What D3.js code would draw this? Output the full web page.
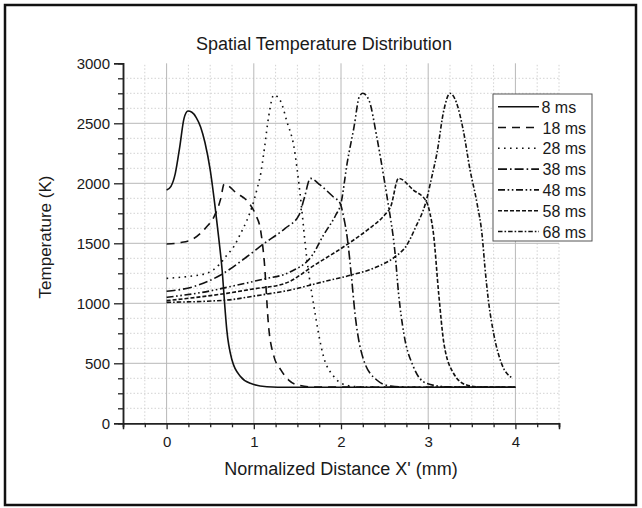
<!DOCTYPE html>
<html>
<head>
<meta charset="utf-8">
<script src="https://cdn.jsdelivr.net/npm/d3@7"></script>
<style>
    body { margin: 0; background: #fff; }
    text { font-family: "Liberation Sans", Arial, sans-serif; fill: #1a1a1a; }
</style>
</head>
<body>
<div id="chart"></div>
<script>
let series_names = ["8 ms", "18 ms", "28 ms", "38 ms", "48 ms", "58 ms", "68 ms"];

let x_8 = [0, 0.05, 0.1, 0.15, 0.2, 0.245, 0.29, 0.34, 0.39, 0.44, 0.5, 0.56, 0.6, 0.64, 0.665, 0.69, 0.75, 0.85, 0.96, 1.15, 1.4, 4];
let t_8 = [1944, 1975, 2083, 2300, 2541, 2602, 2592, 2548, 2470, 2340, 2111, 1780, 1530, 1250, 1000, 780, 527, 388, 333, 305, 300, 300];

let x_18 = [0, 0.15, 0.3, 0.45, 0.55, 0.62, 0.66, 0.8, 0.95, 1.02, 1.08, 1.12, 1.17, 1.23, 1.31, 1.4, 1.5, 1.7, 4];
let t_18 = [1494, 1505, 1535, 1630, 1730, 1870, 1994, 1920, 1830, 1740, 1600, 1350, 805, 560, 445, 360, 320, 302, 300];

let x_28 = [0, 0.2, 0.46, 0.6, 0.69, 0.77, 0.85, 0.92, 0.98, 1.04, 1.08, 1.12, 1.17, 1.23, 1.31, 1.38, 1.46, 1.53, 1.61, 1.69, 1.8, 1.92, 2.05, 2.25, 4];
let t_28 = [1208, 1220, 1250, 1320, 1400, 1472, 1583, 1690, 1805, 1960, 2083, 2280, 2555, 2736, 2680, 2513, 2305, 1917, 1361, 972, 555, 388, 320, 302, 300];

let x_38 = [0, 0.31, 0.62, 0.92, 1.11, 1.36, 1.52, 1.58, 1.65, 1.76, 1.91, 1.99, 2.03, 2.07, 2.12, 2.16, 2.26, 2.41, 2.57, 2.8, 4];
let t_38 = [1100, 1139, 1236, 1388, 1494, 1625, 1736, 1880, 2041, 1986, 1888, 1833, 1720, 1555, 1222, 917, 527, 361, 310, 300, 300];

let x_48 = [0, 0.4, 0.81, 1.1, 1.42, 1.67, 1.8, 1.94, 2.0, 2.07, 2.15, 2.21, 2.25, 2.32, 2.41, 2.49, 2.54, 2.62, 2.66, 2.72, 2.83, 2.98, 3.2, 4];
let t_48 = [1050, 1090, 1152, 1200, 1263, 1400, 1569, 1736, 1833, 2166, 2472, 2722, 2750, 2694, 2388, 2055, 1833, 1417, 1083, 750, 472, 333, 305, 300];

let x_58 = [0, 0.69, 1.0, 1.36, 1.7, 2.09, 2.3, 2.5, 2.57, 2.66, 2.83, 2.98, 3.02, 3.06, 3.12, 3.18, 3.29, 3.44, 3.6, 4];
let t_58 = [1022, 1083, 1120, 1166, 1320, 1500, 1610, 1736, 1805, 2041, 1944, 1847, 1750, 1583, 1083, 667, 417, 319, 302, 300];

let x_68 = [0, 0.69, 1.0, 1.42, 1.8, 2.12, 2.4, 2.62, 2.75, 2.85, 2.98, 3.04, 3.1, 3.18, 3.25, 3.32, 3.4, 3.48, 3.56, 3.62, 3.65, 3.69, 3.75, 3.84, 3.96];
let t_68 = [1008, 1027, 1060, 1111, 1180, 1236, 1300, 1388, 1480, 1625, 1861, 2050, 2250, 2611, 2750, 2680, 2450, 2111, 1833, 1555, 1305, 1027, 750, 500, 380];

let x_ticks = [0, 1, 2, 3, 4];
let y_ticks = [0, 500, 1000, 1500, 2000, 2500, 3000];

let all_x = [x_8, x_18, x_28, x_38, x_48, x_58, x_68];
let all_t = [t_8, t_18, t_28, t_38, t_48, t_58, t_68];

// line styles, same order as the series
let dashes = ["none", "8,6", "1.6,4.4", "9,3,1.6,3", "7,2.6,1.6,2.6,1.6,2.6", "4,2", "4.5,2,1.6,2"];

let width = 642, height = 508;
let svg = d3.select("#chart").append("svg")
    .attr("width", width)
    .attr("height", height);

svg.append("rect")
    .attr("x", 5)
    .attr("y", 5)
    .attr("width", 631)
    .attr("height", 500)
    .attr("fill", "#fff")
    .attr("stroke", "#111")
    .attr("stroke-width", 2.5);

let x = d3.scaleLinear().domain([-0.5, 4.5]).range([123, 559]);
let y = d3.scaleLinear().domain([0, 3000]).range([423.3, 63.3]);

let x_minor = d3.range(-0.5, 4.51, 0.25).filter(d => !x_ticks.includes(d));
let y_minor = d3.range(0, 3001, 125).filter(d => !y_ticks.includes(d));

let grid = svg.append("g");
grid.selectAll(".vminor").data(x_minor.filter(d => d > -0.5)).join("line")
    .attr("x1", d => x(d)).attr("x2", d => x(d))
    .attr("y1", y(0)).attr("y2", y(3000))
    .attr("stroke", "#d2d2d2")
    .attr("stroke-dasharray", "1.5,2");
grid.selectAll(".hminor").data(y_minor).join("line")
    .attr("x1", x(-0.5)).attr("x2", x(4.5))
    .attr("y1", d => y(d)).attr("y2", d => y(d))
    .attr("stroke", "#d2d2d2")
    .attr("stroke-dasharray", "1.5,2");
grid.selectAll(".vmajor").data(x_ticks).join("line")
    .attr("x1", d => x(d)).attr("x2", d => x(d))
    .attr("y1", y(0)).attr("y2", y(3000))
    .attr("stroke", "#b8b8b8");
grid.selectAll(".hmajor").data(y_ticks.filter(d => d > 0 && d < 3000)).join("line")
    .attr("x1", x(-0.5)).attr("x2", x(4.5))
    .attr("y1", d => y(d)).attr("y2", d => y(d))
    .attr("stroke", "#b8b8b8");

let line_gen = d3.line()
    .x(d => x(d[0]))
    .y(d => y(d[1]))
    .curve(d3.curveMonotoneX);

let curves = svg.append("g");
for (let j = 0; j < series_names.length; j++) {
    let pts = all_x[j].map((v, i) => [v, all_t[j][i]]);
    curves.append("path")
        .datum(pts)
        .attr("d", line_gen)
        .attr("fill", "none")
        .attr("stroke", "#111")
        .attr("stroke-width", 1.6)
        .attr("stroke-dasharray", dashes[j]);
}

// axes: major ticks with labels, minor ticks without
let x_axis = d3.axisBottom(x).tickValues(x_ticks).tickSize(6).tickPadding(7).tickFormat(d3.format("d"));
let x_axis_minor = d3.axisBottom(x).tickValues(x_minor).tickSize(4).tickFormat("");
let y_axis = d3.axisLeft(y).tickValues(y_ticks).tickSize(9).tickPadding(4).tickFormat(d3.format("d"));
let y_axis_minor = d3.axisLeft(y).tickValues(y_minor).tickSize(5).tickFormat("");

function style_axis(g) {
    g.select(".domain").attr("stroke", "#222").attr("stroke-width", 1.5);
    g.selectAll(".tick line").attr("stroke", "#222").attr("stroke-width", 1.3);
    g.selectAll(".tick text").style("font-size", "15px").style("font-family", "Liberation Sans, Arial, sans-serif").attr("fill", "#1a1a1a");
}

svg.append("g").attr("transform", "translate(0," + y(0) + ")").call(x_axis_minor).call(style_axis);
svg.append("g").attr("transform", "translate(0," + y(0) + ")").call(x_axis).call(style_axis);
svg.append("g").attr("transform", "translate(" + x(-0.5) + ",0)").call(y_axis_minor).call(style_axis);
svg.append("g").attr("transform", "translate(" + x(-0.5) + ",0)").call(y_axis).call(style_axis);

svg.append("text")
    .attr("x", 324)
    .attr("y", 50)
    .attr("text-anchor", "middle")
    .style("font-size", "18px")
    .text("Spatial Temperature Distribution");

svg.append("text")
    .attr("x", 341)
    .attr("y", 475)
    .attr("text-anchor", "middle")
    .style("font-size", "18px")
    .text("Normalized Distance X' (mm)");

svg.append("text")
    .attr("transform", "translate(51,237) rotate(-90)")
    .attr("text-anchor", "middle")
    .style("font-size", "17px")
    .text("Temperature (K)");

// legend
let legend = svg.append("g").attr("transform", "translate(493,94)");
legend.append("rect")
    .attr("width", 99)
    .attr("height", 147)
    .attr("fill", "#fff")
    .attr("stroke", "#555")
    .attr("stroke-width", 1);

let rows = legend.selectAll("g").data(series_names).join("g")
    .attr("transform", (d, i) => "translate(0," + (12.7 + 20.8 * i) + ")");
rows.append("line")
    .attr("x1", 5).attr("x2", 46)
    .attr("stroke", "#111")
    .attr("stroke-width", 1.6)
    .attr("stroke-dasharray", (d, i) => dashes[i]);
rows.append("text")
    .attr("x", (d, i) => i === 0 ? 48.5 : 49.5)
    .attr("y", 6)
    .style("font-size", "16px")
    .text(d => d);
</script>
</body>
</html>
